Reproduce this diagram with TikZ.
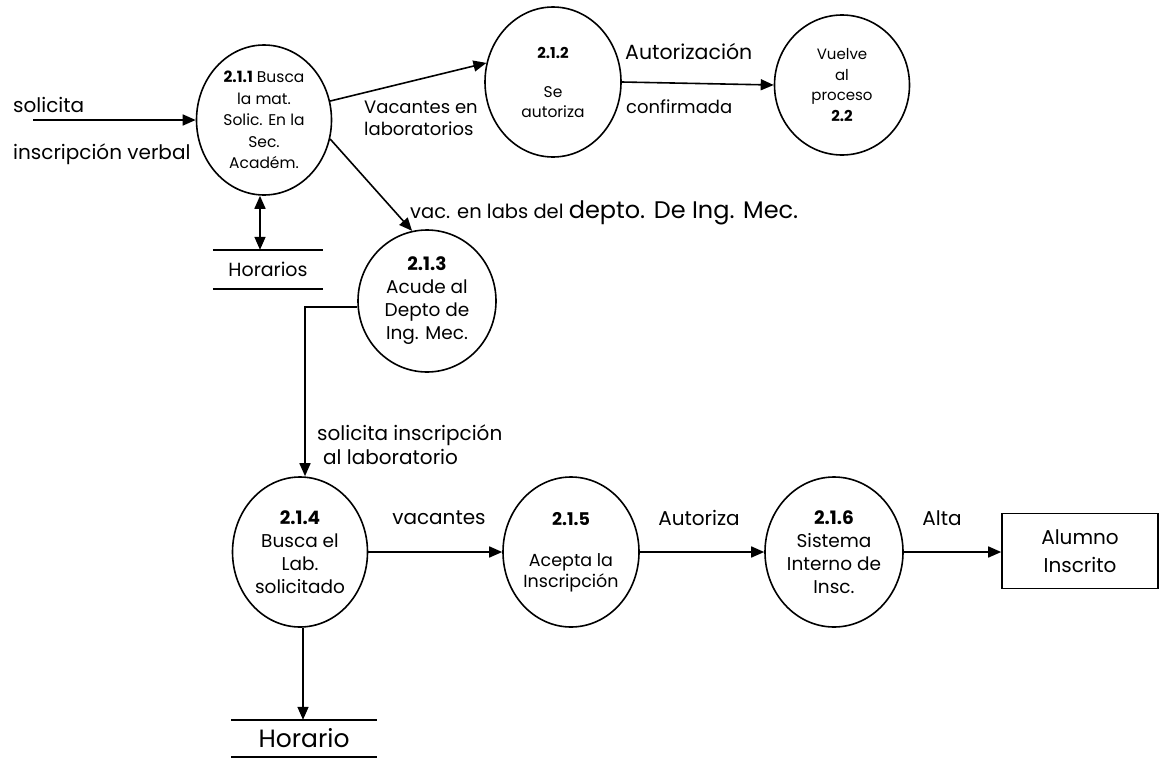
\documentclass[tikz,border=0pt]{standalone}
\usepackage{fontspec}
\setmainfont{Poppins}
\usetikzlibrary{shapes.geometric,arrows.meta}
\begin{document}
\begin{tikzpicture}[x=1pt,y=-1pt,
  proc/.style={ellipse,draw,line width=1.6pt,inner sep=0pt,align=center},
  store/.style={inner sep=0pt,minimum height=38pt},
  ent/.style={rectangle,draw,line width=1.6pt,inner sep=0pt,align=center},
  flow/.style={line width=1.6pt,-{Triangle[length=13pt,width=11pt]}},
  flowboth/.style={line width=1.6pt,{Triangle[length=13pt,width=11pt]}-{Triangle[length=13pt,width=11pt]}},
  lbl/.style={inner sep=0pt,font=\fontsize{20}{24}\selectfont,align=left},
  big/.style={font=\fontsize{18.5}{23}\selectfont}]
\useasboundingbox (0,0) rectangle (1162,758);

% processes
\node[proc,minimum width=135pt,minimum height=150pt,font=\fontsize{15.5}{21.5}\selectfont] (p211) at (264,120)
  {\textbf{2.1.1} Busca\\la mat.\\Solic. En la\\Sec.\\Académ.};
\node[proc,minimum width=136pt,minimum height=150pt,font=\fontsize{15.5}{20}\selectfont] (p212) at (553,82)
  {{\fontsize{15}{17}\selectfont\textbf{2.1.2}}\\[19pt]Se\\autoriza};
\node[proc,minimum width=135pt,minimum height=140pt,font=\fontsize{15}{20.5}\selectfont] (p22) at (842,85)
  {Vuelve\\al\\proceso\\\textbf{2.2}};
\node[proc,big,minimum width=138pt,minimum height=142pt] (p213) at (427,301)
  {\textbf{2.1.3}\\Acude al\\Depto de\\Ing. Mec.};
\node[proc,big,minimum width=135pt,minimum height=150pt] (p214) at (300,552)
  {\textbf{2.1.4}\\Busca el\\Lab.\\solicitado};
\node[proc,minimum width=136pt,minimum height=150pt,font=\fontsize{17.5}{21}\selectfont] (p215) at (571,552)
  {\textbf{2.1.5}\\[20pt]Acepta la\\Inscripción};
\node[proc,big,minimum width=138pt,minimum height=150pt] (p216) at (834,552)
  {\textbf{2.1.6}\\Sistema\\Interno de\\Insc.};

% external entity
\node[ent,minimum width=156pt,minimum height=75pt,font=\fontsize{20}{28}\selectfont] (alumno) at (1080,551)
  {Alumno\\Inscrito};

% data stores
\node[store,minimum width=110pt,minimum height=39pt,font=\fontsize{19}{22}\selectfont] (hor1) at (268,269.5) {Horarios};
\draw[line width=1.6pt] (hor1.north west) -- (hor1.north east);
\draw[line width=1.6pt] (hor1.south west) -- (hor1.south east);
\node[store,minimum width=145pt,minimum height=37pt,font=\fontsize{25}{28}\selectfont] (hor2) at (304,738.5) {Horario};
\draw[line width=1.6pt] (hor2.north west) -- (hor2.north east);
\draw[line width=1.6pt] (hor2.south west) -- (hor2.south east);

% flows
\coordinate (src) at (33,120);
\draw[flow] (src) -- (p211.west);
\draw[flowboth] ([xshift=-4pt]p211.south) -- ([xshift=-4pt]p211.south |- hor1.north);
\draw[flow] (p211.16) -- (p212.164);
\draw[flow] (p211.-16) -- (p213.102);
\draw[flow] (p212.east) -- (p22.west);
\draw[flow] (p213.185) -| ([xshift=5pt]p214.north);
\draw[flow] (p214.east) -- (p215.west);
\draw[flow] (p215.east) -- (p216.west);
\draw[flow] (p216.east) -- (p216.east -| alumno.west);
\draw[flow] ([xshift=3pt]p214.south) -- ([xshift=3pt]p214.south |- hor2.north);

% flow labels
\node[lbl,anchor=west] (l1) at (13,105) {solicita};
\node[lbl,anchor=west] (l2) at (13,154) {inscripción verbal};
\node[lbl,anchor=west,font=\fontsize{18}{22}\selectfont] (l3) at (364,118) {Vacantes en\\laboratorios};
\node[lbl,anchor=west,font=\fontsize{20.5}{24}\selectfont] (l4) at (625,52) {Autorización};
\node[lbl,anchor=west,font=\fontsize{18}{22}\selectfont] (l5) at (626,107) {confirmada};
\node[lbl,anchor=west,font=\fontsize{19.5}{24}\selectfont] (l6) at (410,213) {vac. en labs del {\fontsize{24}{28}\selectfont depto. De Ing. Mec.}};
\node[lbl,anchor=west] (l7) at (317,445) {solicita inscripción\\\hspace*{6pt}al laboratorio};
\node[lbl] (l8) at (439,518) {vacantes};
\node[lbl] (l9) at (699,518) {Autoriza};
\node[lbl] (l10) at (942,518) {Alta};
\end{tikzpicture}
\end{document}
